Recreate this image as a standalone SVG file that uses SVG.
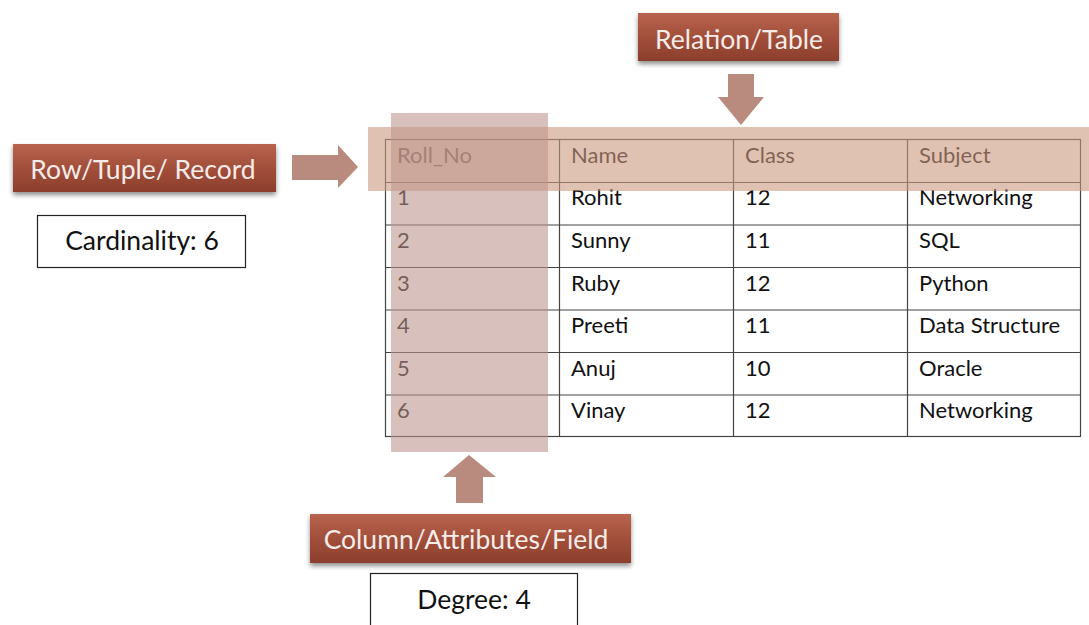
<svg xmlns="http://www.w3.org/2000/svg" width="1089" height="625" viewBox="0 0 1089 625">
<defs>
<linearGradient id="lbl" x1="0" y1="0" x2="0" y2="1">
<stop offset="0" stop-color="#b8644e"/>
<stop offset="0.5" stop-color="#a24f3b"/>
<stop offset="1" stop-color="#8c3e2c"/>
</linearGradient>
<filter id="sh" x="-10%" y="-20%" width="120%" height="160%">
<feGaussianBlur in="SourceAlpha" stdDeviation="2.5"/>
<feOffset dx="0" dy="3" result="b"/>
<feComponentTransfer><feFuncA type="linear" slope="0.45"/></feComponentTransfer>
<feMerge><feMergeNode/><feMergeNode in="SourceGraphic"/></feMerge>
</filter>
</defs>
<style>
.lbl{fill:url(#lbl);filter:url(#sh)}
.lt{font-family:Lato,"Open Sans","Liberation Sans",sans-serif;font-size:26.5px;fill:#f6ece8;text-anchor:middle}
.box{fill:#fff;stroke:#222;stroke-width:1.2}
.bt{font-family:Lato,"Open Sans","Liberation Sans",sans-serif;font-size:26.5px;fill:#111;text-anchor:middle}
.tt{font-family:Lato,"Open Sans","Liberation Sans",sans-serif;font-size:22px;fill:#111}
.grid{stroke:#444;stroke-width:1.2;fill:none}
.arr{fill:#b98a7e}
</style>
<rect width="1089" height="625" fill="#fff"/>

<g id="table">
<rect class="grid" x="385.5" y="139.5" width="695" height="297" fill="#fff"/>
<g class="grid">
<line x1="559.5" y1="139.5" x2="559.5" y2="436.5"/>
<line x1="733.5" y1="139.5" x2="733.5" y2="436.5"/>
<line x1="907.5" y1="139.5" x2="907.5" y2="436.5"/>
<line x1="385.5" y1="182.5" x2="1080.5" y2="182.5"/>
<line x1="385.5" y1="225" x2="1080.5" y2="225"/>
<line x1="385.5" y1="267.5" x2="1080.5" y2="267.5"/>
<line x1="385.5" y1="310" x2="1080.5" y2="310"/>
<line x1="385.5" y1="352.5" x2="1080.5" y2="352.5"/>
<line x1="385.5" y1="395" x2="1080.5" y2="395"/>
</g>
<g class="tt">
<text x="397" y="163">Roll_No</text><text x="571" y="163">Name</text><text x="745" y="163">Class</text><text x="919" y="163">Subject</text>
<text x="397" y="205">1</text><text x="571" y="205">Rohit</text><text x="745" y="205">12</text><text x="919" y="205">Networking</text>
<text x="397" y="248">2</text><text x="571" y="248">Sunny</text><text x="745" y="248">11</text><text x="919" y="248">SQL</text>
<text x="397" y="291">3</text><text x="571" y="291">Ruby</text><text x="745" y="291">12</text><text x="919" y="291">Python</text>
<text x="397" y="333">4</text><text x="571" y="333">Preeti</text><text x="745" y="333">11</text><text x="919" y="333">Data Structure</text>
<text x="397" y="376">5</text><text x="571" y="376">Anuj</text><text x="745" y="376">10</text><text x="919" y="376">Oracle</text>
<text x="397" y="418">6</text><text x="571" y="418">Vinay</text><text x="745" y="418">12</text><text x="919" y="418">Networking</text>
</g>
<rect id="row-band" x="368" y="127" width="721" height="64" fill="rgb(203,153,128)" fill-opacity="0.6"/>
<rect id="col-band" x="391" y="113" width="157" height="339" fill="rgb(188,148,140)" fill-opacity="0.58"/>
</g>

<g id="connectors">
<polygon class="arr" points="728,74 754,74 754,97 764,97 741,125 718,97 728,97"/>
<polygon class="arr" points="292,155 338,155 338,145 358,167 338,188 338,180 292,180"/>
<polygon class="arr" points="456,503 483,503 483,477 496,477 469,455 443,477 456,477"/>
</g>

<g id="relation">
<rect class="lbl" x="638" y="13" width="201" height="48"/>
<text class="lt" x="739" y="49">Relation/Table</text>
</g>
<g id="row">
<rect class="lbl" x="13" y="144" width="263" height="48"/>
<text class="lt" x="143" y="179">Row/Tuple/ Record</text>
</g>
<g id="cardinality">
<rect class="box" x="37.5" y="215.5" width="208" height="52"/>
<text class="bt" x="142" y="250">Cardinality: 6</text>
</g>
<g id="column">
<rect class="lbl" x="310" y="514" width="321" height="49"/>
<text class="lt" x="466" y="549">Column/Attributes/Field</text>
</g>
<g id="degree">
<rect class="box" x="370.5" y="573.5" width="207" height="60"/>
<text class="bt" x="474" y="609">Degree: 4</text>
</g>
</svg>
